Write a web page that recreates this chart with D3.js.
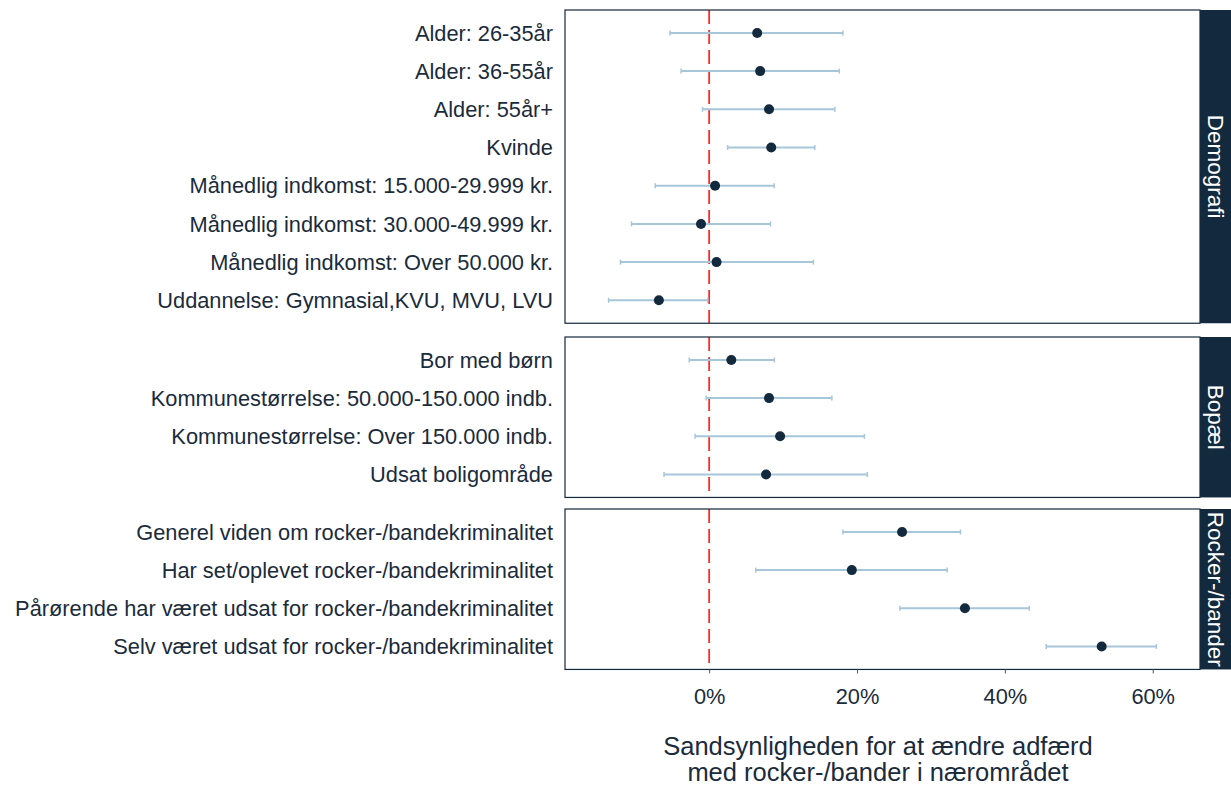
<!DOCTYPE html>
<html>
<head>
<meta charset="utf-8">
<script src="https://cdn.jsdelivr.net/npm/d3@7"></script>
<style>
  body { margin: 0; background: #fff; }
  text { font-family: "Liberation Sans", Arial, sans-serif; }
</style>
</head>
<body>
<div id="chart"></div>
<script>
// groups (facets) and their rows, top to bottom
let groups = ["Demografi", "Bopæl", "Rocker-/bander"];

let labels = [
  ["Alder: 26-35år", "Alder: 36-55år", "Alder: 55år+", "Kvinde",
   "Månedlig indkomst: 15.000-29.999 kr.", "Månedlig indkomst: 30.000-49.999 kr.",
   "Månedlig indkomst: Over 50.000 kr.", "Uddannelse: Gymnasial,KVU, MVU, LVU"],
  ["Bor med børn", "Kommunestørrelse: 50.000-150.000 indb.",
   "Kommunestørrelse: Over 150.000 indb.", "Udsat boligområde"],
  ["Generel viden om rocker-/bandekriminalitet", "Har set/oplevet rocker-/bandekriminalitet",
   "Pårørende har været udsat for rocker-/bandekriminalitet", "Selv været udsat for rocker-/bandekriminalitet"]
];

let estimates = [
  [0.065, 0.069, 0.081, 0.084, 0.008, -0.011, 0.010, -0.068],
  [0.030, 0.081, 0.096, 0.077],
  [0.261, 0.193, 0.346, 0.531]
];
let lower = [
  [-0.053, -0.038, -0.009, 0.025, -0.073, -0.105, -0.120, -0.136],
  [-0.027, -0.004, -0.019, -0.061],
  [0.181, 0.063, 0.258, 0.456]
];
let upper = [
  [0.181, 0.176, 0.170, 0.143, 0.088, 0.083, 0.141, -0.002],
  [0.088, 0.166, 0.210, 0.214],
  [0.340, 0.322, 0.433, 0.605]
];

let xTicks = [0, 0.2, 0.4, 0.6];
let xTitle = ["Sandsynligheden for at ændre adfærd", "med rocker-/bander i nærområdet"];

const W = 1231, H = 786;
const navy = "#13293d", errCol = "#a8c6d9", refCol = "#ff2b2b", txtCol = "#1a2b3c";
const left = 565, right = 1200, stripW = 31;
const panelTops = [10, 337, 509];
const rowH = 38.2, pad = 0.6;

const svg = d3.select("#chart").append("svg").attr("width", W).attr("height", H);

const x = d3.scaleLinear().domain([-0.195, 0.664]).range([left, right]);

let lastBottom = 0;
groups.forEach((g, gi) => {
  let n = labels[gi].length;
  let top = panelTops[gi];
  let h = (n - 1 + 2 * pad) * rowH;
  let bottom = top + h;
  lastBottom = bottom;
  let y = d3.scalePoint().domain(labels[gi]).range([top + pad * rowH, bottom - pad * rowH]);

  let p = svg.append("g");
  p.append("rect").attr("x", left).attr("y", top).attr("width", right - left).attr("height", h)
    .attr("fill", "#fff");

  // reference line at 0
  p.append("line").attr("x1", x(0)).attr("x2", x(0)).attr("y1", top).attr("y2", bottom)
    .attr("stroke", refCol).attr("stroke-width", 1.8).attr("stroke-dasharray", "14,6");

  let rows = labels[gi].map((l, i) => ({l, est: estimates[gi][i], lo: lower[gi][i], hi: upper[gi][i]}));

  let r = p.selectAll("g.row").data(rows).join("g").attr("class", "row");
  r.append("line").attr("x1", d => x(d.lo)).attr("x2", d => x(d.hi))
    .attr("y1", d => y(d.l)).attr("y2", d => y(d.l))
    .attr("stroke", errCol).attr("stroke-width", 2);
  r.each(function(d) {
    let s = d3.select(this);
    [d.lo, d.hi].forEach(v => s.append("line").attr("x1", x(v)).attr("x2", x(v))
      .attr("y1", y(d.l) - 2.5).attr("y2", y(d.l) + 2.5).attr("stroke", errCol).attr("stroke-width", 1.5));
  });
  r.append("circle").attr("cx", d => x(d.est)).attr("cy", d => y(d.l)).attr("r", 5).attr("fill", navy);

  // y labels
  p.selectAll("text.lab").data(rows).join("text").attr("class", "lab")
    .attr("x", 553).attr("y", d => y(d.l)).attr("dy", "0.35em").attr("text-anchor", "end")
    .attr("font-size", 21.8).attr("fill", txtCol).text(d => d.l);

  // panel border
  p.append("rect").attr("x", left).attr("y", top).attr("width", right - left).attr("height", h)
    .attr("fill", "none").attr("stroke", navy).attr("stroke-width", 1.2);

  // strip
  p.append("rect").attr("x", right).attr("y", top).attr("width", stripW).attr("height", h).attr("fill", navy);
  p.append("text").attr("transform", `translate(${right + stripW / 2},${top + h / 2}) rotate(90)`)
    .attr("text-anchor", "middle").attr("dy", "0.35em").attr("font-size", 22.5).attr("fill", "#fff").text(g);
});

// x axis
const ax = svg.append("g").attr("transform", `translate(0,${lastBottom})`)
  .call(d3.axisBottom(x).tickValues(xTicks).tickFormat(d3.format(".0%")).tickSize(4).tickPadding(15));
ax.select(".domain").remove();
ax.selectAll(".tick line").attr("stroke", "#555");
ax.selectAll(".tick text").attr("font-size", 21.8).attr("fill", txtCol)
  .attr("font-family", "'Liberation Sans', Arial, sans-serif");

svg.append("text").attr("x", 878).attr("y", 755)
  .attr("text-anchor", "middle").attr("font-size", 25.5).attr("fill", txtCol).text(xTitle[0]);
svg.append("text").attr("x", 878).attr("y", 781)
  .attr("text-anchor", "middle").attr("font-size", 25.5).attr("fill", txtCol).text(xTitle[1]);
</script>
</body>
</html>
